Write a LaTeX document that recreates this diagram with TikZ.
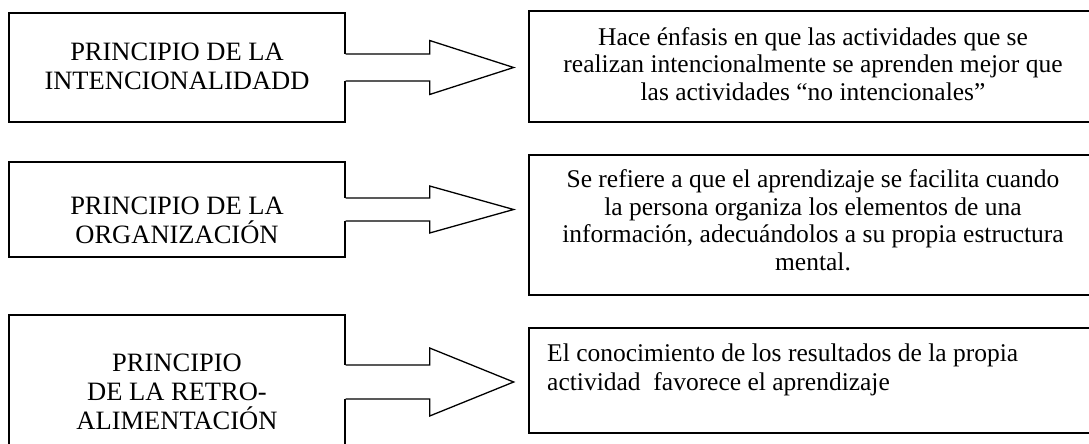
\documentclass[tikz,border=0pt]{standalone}
\usepackage{fontspec}
\setmainfont{Liberation Serif}
\usetikzlibrary{calc}
\begin{document}
\begin{tikzpicture}[x=1pt,y=-1pt,
  box/.style={draw,line width=1.3pt,rectangle,inner sep=0pt},
  lefttext/.style={font=\fontsize{26.5}{29}\selectfont,align=center,inner sep=0pt},
  righttext/.style={font=\fontsize{25.5}{27.5}\selectfont,align=center,inner sep=0pt},
  arrowline/.style={line width=1.3pt,line join=miter}]
\useasboundingbox (0,0) rectangle (1089,444);
\clip (0,0) rectangle (1089,444);
% left boxes
\node[box,minimum width=336pt,minimum height=109pt] (b1) at (177,67.5) {};
\node[box,minimum width=336pt,minimum height=95pt] (b2) at (177,209.5) {};
\node[box,minimum width=336pt,minimum height=134pt] (b3) at (177,382) {};
% right boxes
\node[box,minimum width=568pt,minimum height=111pt] (r1) at (813,66.5) {};
\node[box,minimum width=568pt,minimum height=140pt] (r2) at (813,225) {};
\node[box,minimum width=568pt,minimum height=105pt] (r3) at (813,380.5) {};
% texts
\node[lefttext] (t1) at (177,66) {PRINCIPIO DE LA\\INTENCIONALIDADD};
\node[lefttext] (t2) at (177,220.5) {PRINCIPIO DE LA\\ORGANIZACIÓN};
\node[lefttext] (t3) at (177,391.5) {PRINCIPIO\\DE LA RETRO-\\ALIMENTACIÓN};
\node[righttext] (t4) at (813,64) {Hace énfasis en que las actividades que se\\realizan intencionalmente se aprenden mejor que\\las actividades “no intencionales”};
\node[righttext] (t5) at (813,220) {Se refiere a que el aprendizaje se facilita cuando\\la persona organiza los elementos de una\\información, adecuándolos a su propia estructura\\mental.};
\node[righttext,align=left,anchor=west,font=\fontsize{25.5}{29}\selectfont] (t6) at (547,370) {El conocimiento de los resultados de la propia\\actividad\ \ favorece el aprendizaje};
% block arrows
\fill[white] ($(b1.east)+(-3,-13.5)$) rectangle ($(b1.east)+(10,13.5)$);
\draw[arrowline] ($(b1.east)+(0,-13.5)$) -- ++(84,0) -- ++(0,-13.5) -- ++(84,27) -- ++(-84,27) -- ++(0,-13.5) -- ++(-84,0);
\fill[white] ($(b2.east)+(-3,-11.5)$) rectangle ($(b2.east)+(10,11.5)$);
\draw[arrowline] ($(b2.east)+(0,-11.5)$) -- ++(84,0) -- ++(0,-12) -- ++(84,23.5) -- ++(-84,23.5) -- ++(0,-12) -- ++(-84,0);
\fill[white] ($(b3.east)+(-3,-17)$) rectangle ($(b3.east)+(10,17)$);
\draw[arrowline] ($(b3.east)+(0,-17)$) -- ++(84,0) -- ++(0,-17) -- ++(84,34) -- ++(-84,34) -- ++(0,-17) -- ++(-84,0);
\end{tikzpicture}
\end{document}
